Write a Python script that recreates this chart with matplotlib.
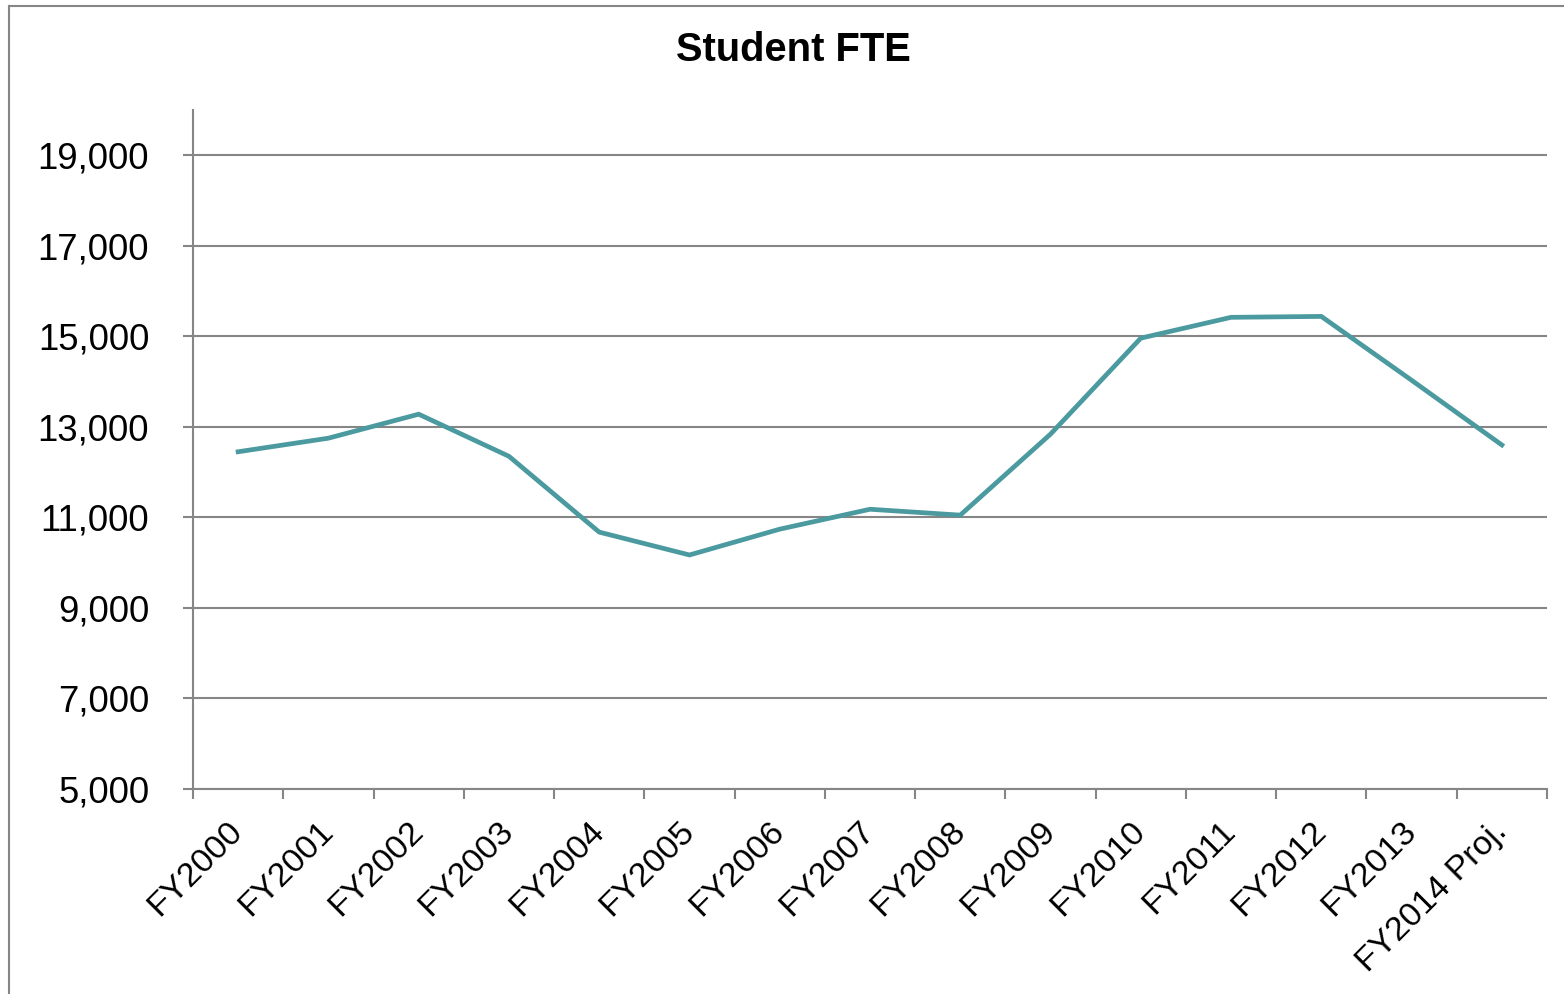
#!/usr/bin/env python3
"""Student FTE line chart, FY2000 through FY2014 projection."""

import matplotlib
matplotlib.use("Agg")
import matplotlib.pyplot as plt
from matplotlib.lines import Line2D
from matplotlib.ticker import FuncFormatter, FixedLocator

YEARS = ["FY2000", "FY2001", "FY2002", "FY2003", "FY2004", "FY2005", "FY2006",
         "FY2007", "FY2008", "FY2009", "FY2010", "FY2011", "FY2012", "FY2013",
         "FY2014 Proj."]
FTE = [12450, 12750, 13280, 12350, 10675, 10170, 10740,
       11180, 11050, 12840, 14960, 15420, 15440, 14030, 12600]
Y_TICKS = [5000, 7000, 9000, 11000, 13000, 15000, 17000, 19000]

GRAY = "#868686"
LINE_COLOR = "#4A9A9F"

plt.rcParams["font.family"] = ["Liberation Sans", "DejaVu Sans"]

W, H = 1564, 994
fig = plt.figure(figsize=(W / 100, H / 100), dpi=100)
ax = fig.add_axes([193 / W, 1 - 789 / H, (1547 - 193) / W, (789 - 110) / H])

x = list(range(len(YEARS)))
ax.plot(x, FTE, color=LINE_COLOR, lw=3.4, solid_joinstyle="miter", zorder=3)

ax.set_xlim(-0.5, len(YEARS) - 0.5)
ax.set_ylim(5000, 20000)
ax.set_yticks(Y_TICKS)
ax.yaxis.set_major_formatter(FuncFormatter(lambda v, _: f"{v:,.0f}"))
ax.grid(True, axis="y", color=GRAY, lw=1.5, zorder=1)

# labels sit at category centres, tick marks on the boundaries
ax.set_xticks(x)
ax.set_xticklabels(YEARS, rotation=45, ha="right", va="center",
                   rotation_mode="anchor")
ax.xaxis.set_minor_locator(FixedLocator([i - 0.5 for i in range(len(YEARS) + 1)]))
ax.tick_params(axis="x", which="major", length=0, pad=27, labelsize=24.5)
ax.tick_params(axis="x", which="minor", length=7.5, width=1.5, color=GRAY,
               direction="out")
ax.tick_params(axis="y", length=7.5, width=1.5, color=GRAY, pad=24, labelsize=26.3)

for side in ("top", "right"):
    ax.spines[side].set_visible(False)
for side in ("left", "bottom"):
    ax.spines[side].set_color(GRAY)
    ax.spines[side].set_linewidth(1.5)

fig.text(793 / W, 1 - 50 / H, "Student FTE", ha="center", va="center",
         fontsize=28.7, fontweight="bold")

# outer chart-area border (only the left and top edges are visible)
fig.add_artist(Line2D([8.5 / W, 8.5 / W], [0, 1 - 5.5 / H], transform=fig.transFigure,
                      color=GRAY, lw=1.5))
fig.add_artist(Line2D([8.5 / W, 1], [1 - 5.5 / H, 1 - 5.5 / H], transform=fig.transFigure,
                      color=GRAY, lw=1.5))

fig.savefig("out.png", dpi=100)
